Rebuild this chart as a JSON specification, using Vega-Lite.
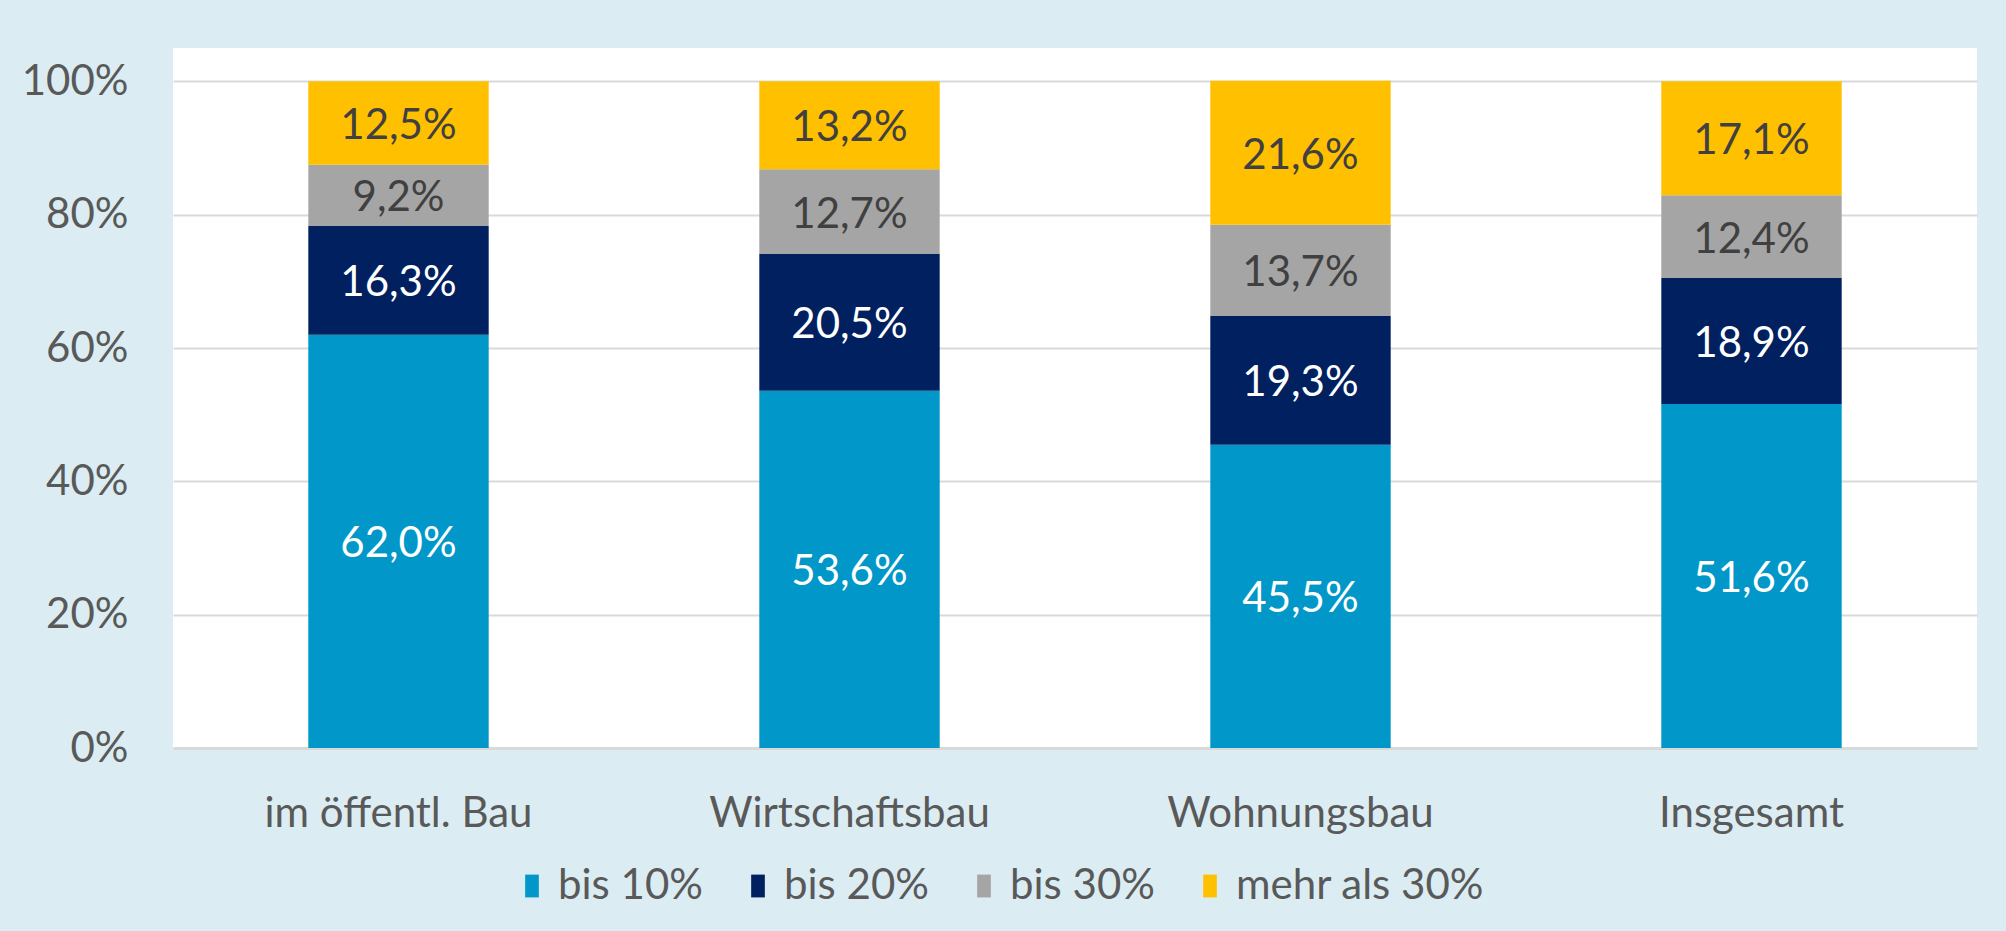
{
  "$schema": "https://vega.github.io/schema/vega-lite/v6.json",
  "width": 1804,
  "height": 700,
  "autosize": {"type": "none"},
  "padding": {"left": 173, "top": 48, "right": 29, "bottom": 183},
  "background": "#DBEDF3",
  "config": {
    "locale": {"number": {"decimal": ",", "thousands": ".", "grouping": [3], "currency": ["", " €"]}},
    "view": {"fill": "white", "stroke": null},
    "font": "Lato"
  },
  "data": {
    "values": [
      {"cat": "im öffentl. Bau", "series": "bis 10%", "share": 0.620},
      {"cat": "im öffentl. Bau", "series": "bis 20%", "share": 0.163},
      {"cat": "im öffentl. Bau", "series": "bis 30%", "share": 0.092},
      {"cat": "im öffentl. Bau", "series": "mehr als 30%", "share": 0.125},
      {"cat": "Wirtschaftsbau", "series": "bis 10%", "share": 0.536},
      {"cat": "Wirtschaftsbau", "series": "bis 20%", "share": 0.205},
      {"cat": "Wirtschaftsbau", "series": "bis 30%", "share": 0.127},
      {"cat": "Wirtschaftsbau", "series": "mehr als 30%", "share": 0.132},
      {"cat": "Wohnungsbau", "series": "bis 10%", "share": 0.455},
      {"cat": "Wohnungsbau", "series": "bis 20%", "share": 0.193},
      {"cat": "Wohnungsbau", "series": "bis 30%", "share": 0.137},
      {"cat": "Wohnungsbau", "series": "mehr als 30%", "share": 0.216},
      {"cat": "Insgesamt", "series": "bis 10%", "share": 0.516},
      {"cat": "Insgesamt", "series": "bis 20%", "share": 0.189},
      {"cat": "Insgesamt", "series": "bis 30%", "share": 0.124},
      {"cat": "Insgesamt", "series": "mehr als 30%", "share": 0.171}
    ]
  },
  "transform": [
    {"stack": "share", "groupby": ["cat"], "sort": [{"field": "series", "order": "ascending"}], "as": ["s0", "s1"]},
    {"calculate": "(datum.s0 + datum.s1) / 2", "as": "labelPos"}
  ],
  "encoding": {
    "x": {
      "field": "cat", "type": "nominal", "sort": null,
      "scale": {"paddingInner": 0.6, "paddingOuter": 0.3},
      "axis": {
        "title": null, "labelAngle": 0, "ticks": false, "labelFontSize": 42, "labelColor": "#595959",
        "labelPadding": 45, "labelLimit": 0, "domainColor": "#D9D9D9", "domainWidth": 3, "grid": false
      }
    }
  },
  "layer": [
    {
      "mark": {"type": "bar"},
      "encoding": {
        "y": {
          "field": "s0", "type": "quantitative",
          "scale": {"domain": [0, 1.05], "nice": false},
          "axis": {
            "title": null, "values": [0, 0.2, 0.4, 0.6, 0.8, 1], "format": ".0%",
            "labelFontSize": 42, "labelColor": "#595959", "labelPadding": 45,
            "ticks": false, "domain": false, "gridColor": "#D9D9D9", "gridWidth": 2
          }
        },
        "y2": {"field": "s1"},
        "color": {
          "field": "series", "type": "nominal",
          "scale": {"domain": ["bis 10%", "bis 20%", "bis 30%", "mehr als 30%"], "range": ["#0198C9", "#002060", "#A5A5A5", "#FFC000"]},
          "legend": {
            "title": null, "orient": "none", "direction": "horizontal", "legendX": 338, "legendY": 817,
            "labelFontSize": 42, "labelColor": "#595959", "labelLimit": 0, "symbolType": "M-0.6,-1H0.6V1H-0.6Z",
            "symbolSize": 520, "symbolStrokeWidth": 0, "symbolOpacity": 1, "labelOffset": 5, "columnPadding": 34
          }
        }
      }
    },
    {
      "mark": {"type": "text", "fontSize": 42, "baseline": "middle", "align": "center", "dy": 3},
      "encoding": {
        "y": {"field": "labelPos", "type": "quantitative"},
        "text": {"field": "share", "type": "quantitative", "format": ".1%"},
        "color": {
          "condition": {"test": "datum.series === 'bis 10%' || datum.series === 'bis 20%'", "value": "#FFFFFF"},
          "value": "#404040"
        }
      }
    }
  ]
}
